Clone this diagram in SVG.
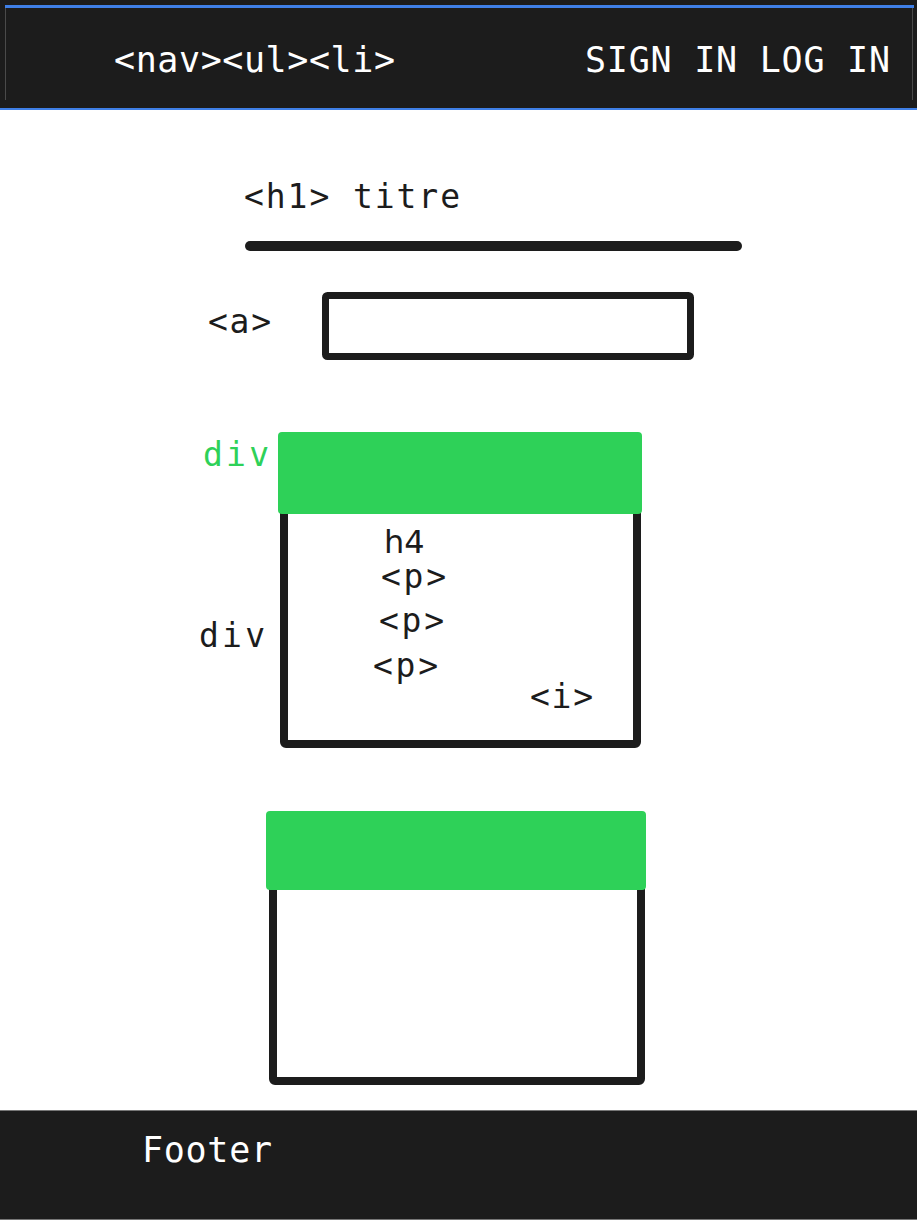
<svg xmlns="http://www.w3.org/2000/svg" width="917" height="1223" viewBox="0 0 917 1223">
<style>
.t{font-family:"DejaVu Sans Mono","Liberation Mono",monospace;font-size:33px;fill:#1c1c1c}
.w{fill:#ffffff;font-size:35px}
.g{fill:#2ed158}
.box{fill:none;stroke:#1c1c1c;stroke-width:8;stroke-linejoin:round}
.bar{fill:#2ed158}
</style>
<rect width="917" height="1223" fill="#ffffff"/>
<g id="header">
<rect x="0" y="0" width="917" height="110" fill="#1c1c1c"/>
<rect x="5" y="5" width="909" height="3" fill="#3f7fe6"/>
<line x1="5.5" y1="8" x2="5.5" y2="100" stroke="#4a4a4a" stroke-width="1"/>
<line x1="912.5" y1="8" x2="912.5" y2="100" stroke="#4a4a4a" stroke-width="1"/>
<rect x="0" y="108" width="917" height="2" fill="#3f7fe6"/>
<text class="t w" x="114" y="72" textLength="281" lengthAdjust="spacing">&lt;nav&gt;&lt;ul&gt;&lt;li&gt;</text>
<text class="t w" x="585" y="72" textLength="305" lengthAdjust="spacing">SIGN IN LOG IN</text>
</g>
<g id="title">
<text class="t" x="244" y="208" style="font-size:33px" textLength="216" lengthAdjust="spacing">&lt;h1&gt; titre</text>
<line x1="250" y1="246" x2="737" y2="246" stroke="#1c1c1c" stroke-width="10" stroke-linecap="round"/>
</g>
<g id="link">
<text class="t" x="208" y="333" textLength="63" lengthAdjust="spacing">&lt;a&gt;</text>
<rect class="box" x="325.5" y="295.5" width="365" height="61" rx="2" style="stroke-width:7"/>
</g>
<g id="card1">
<rect class="box" x="284" y="440" width="353" height="304" rx="2"/>
<rect class="bar" x="278" y="432" width="364" height="82" rx="4"/>
<text class="t g" x="203" y="466" textLength="66" lengthAdjust="spacing">div</text>
<text class="t" x="199" y="647" textLength="66" lengthAdjust="spacing">div</text>
<text class="t" x="384" y="553" style="font-family:'DejaVu Sans',sans-serif;font-size:32px">h4</text>
<text class="t" x="381" y="588" textLength="65" lengthAdjust="spacing">&lt;p&gt;</text>
<text class="t" x="379" y="632" textLength="65" lengthAdjust="spacing">&lt;p&gt;</text>
<text class="t" x="373" y="677" textLength="65" lengthAdjust="spacing">&lt;p&gt;</text>
<text class="t" x="530" y="708" textLength="63" lengthAdjust="spacing">&lt;i&gt;</text>
</g>
<g id="card2">
<rect class="box" x="273" y="820" width="368" height="261" rx="2"/>
<rect class="bar" x="266" y="811" width="380" height="79" rx="4"/>
</g>
<g id="footer">
<rect x="0" y="1110" width="917" height="110" fill="#1c1c1c"/>
<line x1="0" y1="1110.5" x2="917" y2="1110.5" stroke="#777" stroke-width="1"/>
<line x1="0" y1="1219.5" x2="917" y2="1219.5" stroke="#777" stroke-width="1"/>
<text class="t w" x="142" y="1162" textLength="130" lengthAdjust="spacing">Footer</text>
</g>
<g id="connectors"></g>
</svg>
